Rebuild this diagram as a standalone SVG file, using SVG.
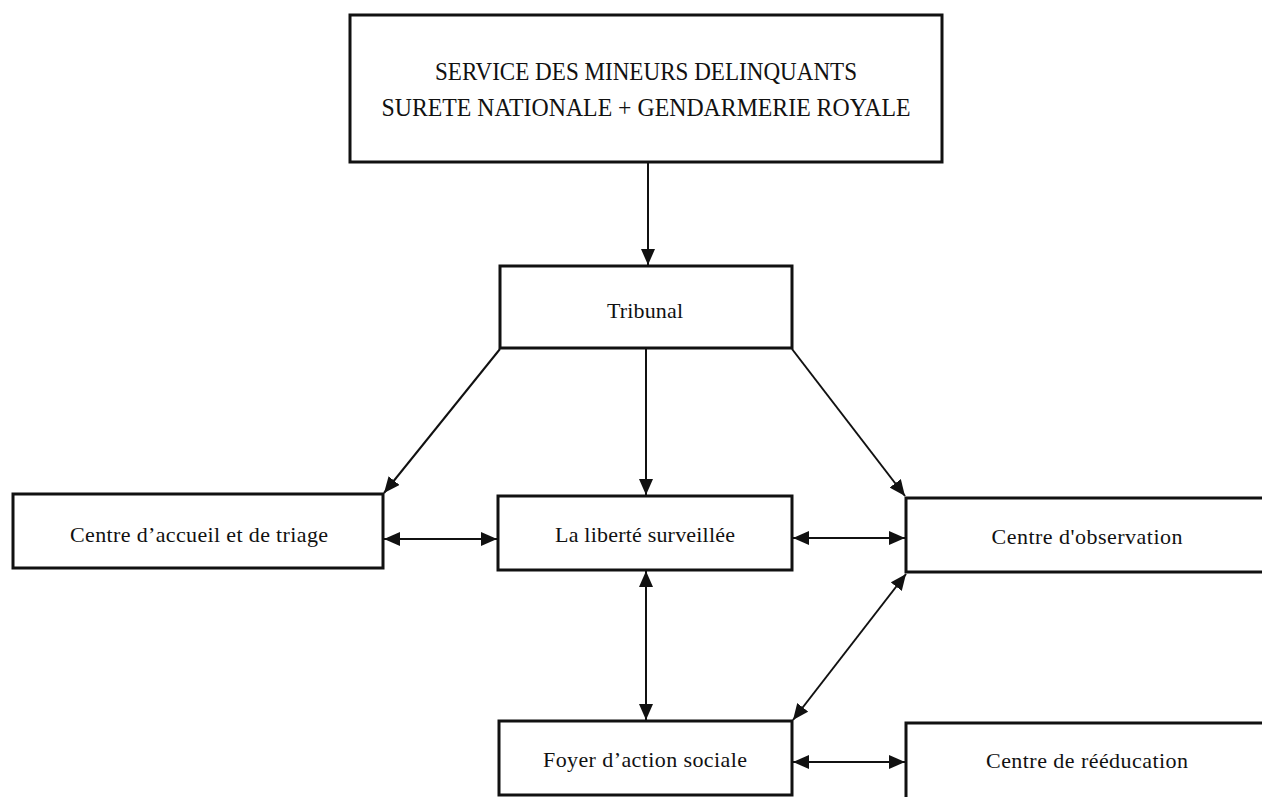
<svg xmlns="http://www.w3.org/2000/svg" width="1262" height="797" viewBox="0 0 1262 797">
<style>
.box{fill:#fff;stroke:#111;stroke-width:3}
.lbl{font-family:"Liberation Serif","Times New Roman",serif;font-size:22px;fill:#111;text-anchor:middle}
.top{font-family:"Liberation Serif","Times New Roman",serif;font-size:26px;fill:#111;text-anchor:middle}
.con{stroke:#111;stroke-width:2;fill:none}
</style>
<defs>
<marker id="ah" viewBox="0 0 16 14" refX="16" refY="7" markerWidth="16" markerHeight="14" markerUnits="userSpaceOnUse" orient="auto-start-reverse">
<path d="M0,0 L16,7 L0,14 Z" fill="#111"/>
</marker>
</defs>
<rect width="1262" height="797" fill="#fff"/>
<g id="connectors">
<line class="con" x1="648" y1="163" x2="648" y2="265" marker-end="url(#ah)"/>
<line class="con" x1="500" y1="349" x2="384" y2="493" marker-end="url(#ah)"/>
<line class="con" x1="646" y1="349" x2="646" y2="495" marker-end="url(#ah)"/>
<line class="con" x1="792" y1="349" x2="905" y2="496" marker-end="url(#ah)"/>
<line class="con" x1="384" y1="539" x2="497" y2="539" marker-start="url(#ah)" marker-end="url(#ah)"/>
<line class="con" x1="793" y1="538" x2="905" y2="538" marker-start="url(#ah)" marker-end="url(#ah)"/>
<line class="con" x1="646" y1="571" x2="646" y2="720" marker-start="url(#ah)" marker-end="url(#ah)"/>
<line class="con" x1="906" y1="574" x2="793" y2="720" marker-start="url(#ah)" marker-end="url(#ah)"/>
<line class="con" x1="793" y1="762" x2="905" y2="762" marker-start="url(#ah)" marker-end="url(#ah)"/>
</g>
<g id="service">
<rect class="box" x="350" y="15" width="592" height="147"/>
<text class="top" x="646" y="80" textLength="422" lengthAdjust="spacingAndGlyphs">SERVICE DES MINEURS DELINQUANTS</text>
<text class="top" x="646" y="116" textLength="529" lengthAdjust="spacingAndGlyphs">SURETE NATIONALE + GENDARMERIE ROYALE</text>
</g>
<g id="tribunal">
<rect class="box" x="500" y="266" width="292" height="82"/>
<text class="lbl" x="645" y="318" textLength="76">Tribunal</text>
</g>
<g id="accueil">
<rect class="box" x="13" y="494" width="370" height="74"/>
<text class="lbl" x="199" y="542" textLength="258">Centre d’accueil et de triage</text>
</g>
<g id="liberte">
<rect class="box" x="498" y="496" width="294" height="74"/>
<text class="lbl" x="645" y="542" textLength="180">La liberté surveillée</text>
</g>
<g id="observation">
<rect class="box" x="906" y="498" width="360" height="74"/>
<text class="lbl" x="1087" y="544" textLength="191">Centre d'observation</text>
</g>
<g id="foyer">
<rect class="box" x="499" y="721" width="293" height="74"/>
<text class="lbl" x="645" y="767" textLength="204">Foyer d’action sociale</text>
</g>
<g id="reeducation">
<rect class="box" x="906" y="723" width="360" height="80"/>
<text class="lbl" x="1087" y="768" textLength="202">Centre de rééducation</text>
</g>
</svg>
